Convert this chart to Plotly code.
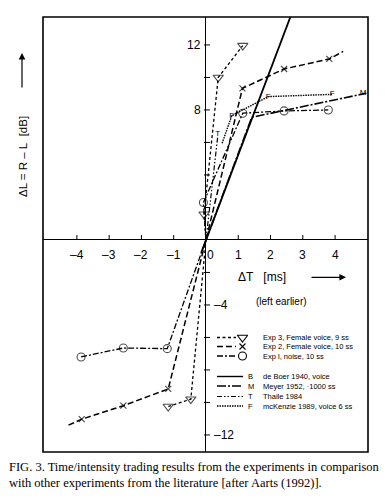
import plotly.graph_objects as go

# ---------------- data ----------------
exp3_x = [-1.17, -0.47, 0.0, -0.06, 0.38, 1.14]
exp3_y = [-10.25, -9.8, 0.0, 1.58, 10.0, 11.96]
exp3_m = [1, 1, 0, 1, 1, 1]

exp2_x = [-4.26, -3.85, -2.56, -1.17, 0.0, 1.13, 2.42, 3.82, 4.25]
exp2_y = [-11.4, -11.03, -10.2, -9.17, 0.0, 9.33, 10.52, 11.14, 11.6]
exp2_m = [0, 1, 1, 1, 0, 1, 1, 1, 0]

exp1_x = [-3.87, -2.56, -1.2, 0.0, -0.08, 1.14, 2.42, 3.79]
exp1_y = [-7.2, -6.65, -6.69, 0.0, 2.3, 7.8, 7.94, 8.0]
exp1_m = [1, 1, 1, 0, 1, 1, 1, 1]

boer_x = [-0.15, 2.62]
boer_y = [-0.8, 13.75]

meyer_x = [0.0, 1.42, 4.97]
meyer_y = [0.0, 7.55, 9.03]
meyer_t = ["", "", "M"]

thiele_x = [0.0, 0.36]
thiele_y = [0.0, 6.3]
thiele_t = ["", "T"]

mck_x = [0.5, 0.8, 1.93, 3.91]
mck_y = [5.95, 7.65, 8.82, 8.96]
mck_t = ["", "F", "F", "F"]

x_ticks = [-4, -3, -2, -1, 1, 2, 3, 4]
x_tick_labels = ["\u20134", "\u20133", "\u20132", "\u20131", "1", "2", "3", "4"]
y_ticks = [-12, -10, -8, -6, -4, -2, 2, 4, 6, 8, 10, 12]
y_label_vals = [12, 8, -4, -12]
y_label_text = ["12", "8", "\u20134", "\u201312"]

legend_exp = ["Exp 3, Female voice, 9 ss", "Exp 2, Female voice, 10 ss", "Exp l, noise, 10 ss"]
legend_lit_letters = ["B", "M", "T", "F"]
legend_lit = ["de Boer 1940, voice", "Meyer 1952, \u00b71000 ss", "Thaile 1984", "mcKenzie 1989, voice 6 ss"]

caption1 = "FIG. 3. Time/intensity trading results from the experiments in comparison"
caption2 = "with other experiments from the literature [after Aarts (1992)]."

# ---------------- styling ----------------
W, H = 390, 502
L, R, T, B = 43, 368, 17, 452
SANS = "Liberation Sans, Arial, sans-serif"
SERIF = "Liberation Serif, Times New Roman, serif"
K = "black"

def xp(px):
    return (px - L) / (R - L)

def yp(py):
    return (B - py) / (B - T)

st_exp3 = dict(dash="3px,2.5px", width=1.3)
st_exp2 = dict(dash="6px,3px", width=1.5)
st_exp1 = dict(dash="6px,2px,2px,2px", width=1.3)
st_boer = dict(dash="solid", width=1.8)
st_meyer = dict(dash="9px,2px,2px,2px", width=1.6)
st_thiele = dict(dash="5px,2px,1.5px,2px,1.5px,2px", width=1.2)
st_mck = dict(dash="1.5px,1px", width=1.4)

def msize(flags, s):
    return [s if f else 0 for f in flags]

fig = go.Figure()

fig.add_trace(go.Scatter(x=exp3_x, y=exp3_y, mode="lines+markers",
                         line=dict(color=K, **st_exp3),
                         marker=dict(symbol="triangle-down-open", size=msize(exp3_m, 9),
                                     color=K, line=dict(width=1.1, color=K))))
fig.add_trace(go.Scatter(x=exp2_x, y=exp2_y, mode="lines+markers",
                         line=dict(color=K, **st_exp2),
                         marker=dict(symbol="x-thin-open", size=msize(exp2_m, 6),
                                     color=K, line=dict(width=1.2, color=K))))
fig.add_trace(go.Scatter(x=exp1_x, y=exp1_y, mode="lines+markers",
                         line=dict(color=K, **st_exp1),
                         marker=dict(symbol="circle-open", size=msize(exp1_m, 8),
                                     color=K, line=dict(width=1.1, color=K))))
fig.add_trace(go.Scatter(x=boer_x, y=boer_y, mode="lines", line=dict(color=K, **st_boer)))
fig.add_trace(go.Scatter(x=meyer_x, y=meyer_y, mode="lines+text", text=meyer_t,
                         textposition="middle left", cliponaxis=False,
                         textfont=dict(family=SANS, size=8, color=K),
                         line=dict(color=K, **st_meyer)))
fig.add_trace(go.Scatter(x=thiele_x, y=thiele_y, mode="lines+text", text=thiele_t,
                         textposition="top center",
                         textfont=dict(family=SANS, size=8, color=K),
                         line=dict(color=K, **st_thiele)))
fig.add_trace(go.Scatter(x=mck_x, y=mck_y, mode="lines+text", text=mck_t,
                         textposition="middle center",
                         textfont=dict(family=SANS, size=8, color=K),
                         line=dict(color=K, **st_mck)))

# ---------------- legend (drawn in pixel-coordinate overlay axes) ----------------
exp_rows_y = [337.5, 346.5, 356]
exp_styles = [st_exp3, st_exp2, st_exp1]
exp_syms = ["triangle-down-open", "x-thin-open", "circle-open"]
exp_sizes = [9, 6, 8]
for yy, stl, sym, sz in zip(exp_rows_y, exp_styles, exp_syms, exp_sizes):
    fig.add_trace(go.Scatter(x=[217, 236], y=[yy, yy], mode="lines", xaxis="x2", yaxis="y2",
                             line=dict(color=K, **stl)))
    fig.add_trace(go.Scatter(x=[242.5], y=[yy], mode="markers", xaxis="x2", yaxis="y2",
                             marker=dict(symbol=sym, size=sz, color=K, line=dict(width=1.1, color=K))))

lit_rows_y = [376.5, 386, 396.5, 406]
lit_styles = [st_boer, st_meyer, st_thiele, st_mck]
for yy, stl in zip(lit_rows_y, lit_styles):
    s = dict(stl)
    s["width"] = min(s["width"], 1.4)
    fig.add_trace(go.Scatter(x=[217, 243], y=[yy, yy], mode="lines", xaxis="x2", yaxis="y2",
                             line=dict(color=K, **s)))

annotations = []
for yy, txt in zip(exp_rows_y, legend_exp):
    annotations.append(dict(x=261, y=yy, xref="x2", yref="y2", text=txt, showarrow=False,
                            xanchor="left", yanchor="middle",
                            font=dict(family=SANS, size=7.5, color=K)))
for yy, let, txt in zip(lit_rows_y, legend_lit_letters, legend_lit):
    annotations.append(dict(x=250.5, y=yy, xref="x2", yref="y2", text=let, showarrow=False,
                            xanchor="center", yanchor="middle",
                            font=dict(family=SANS, size=7.5, color=K)))
    annotations.append(dict(x=261, y=yy, xref="x2", yref="y2", text=txt, showarrow=False,
                            xanchor="left", yanchor="middle",
                            font=dict(family=SANS, size=7.5, color=K)))

# ---------------- axis tick labels and tick marks ----------------
shapes = []
for t, lab in zip(x_ticks, x_tick_labels):
    annotations.append(dict(x=t, y=0, xref="x", yref="y", text=lab, showarrow=False,
                            yshift=-15, xanchor="center", yanchor="middle",
                            font=dict(family=SANS, size=12, color=K)))
    shapes.append(dict(type="line", xref="x", yref="y", x0=t, x1=t,
                       ysizemode="pixel", yanchor=0, y0=0, y1=5,
                       line=dict(color=K, width=1)))
annotations.append(dict(x=0, y=0, xref="x", yref="y", text="0", showarrow=False,
                        yshift=-15, xshift=5, xanchor="center", yanchor="middle",
                        font=dict(family=SANS, size=12, color=K)))
for t in y_ticks:
    shapes.append(dict(type="line", xref="x", yref="y", y0=t, y1=t,
                       xsizemode="pixel", xanchor=0, x0=-2, x1=4,
                       line=dict(color=K, width=1)))
for v, lab in zip(y_label_vals, y_label_text):
    if v > 0:
        annotations.append(dict(x=0, y=v, xref="x", yref="y", text=lab, showarrow=False,
                                xshift=-3, xanchor="right", yanchor="middle",
                                font=dict(family=SANS, size=12, color=K)))
    else:
        annotations.append(dict(x=0, y=v, xref="x", yref="y", text=lab, showarrow=False,
                                xshift=6, xanchor="left", yanchor="middle",
                                font=dict(family=SANS, size=12, color=K)))

# axis titles
annotations.append(dict(x=xp(262), y=yp(277), xref="paper", yref="paper",
                        text="\u0394T\u00a0\u00a0\u00a0[ms]", showarrow=False,
                        xanchor="center", yanchor="middle",
                        font=dict(family=SANS, size=12, color=K)))
annotations.append(dict(x=xp(346), y=yp(277.3), xref="paper", yref="paper", text="",
                        showarrow=True, ax=-36, ay=0, arrowhead=2, arrowsize=1.1,
                        arrowwidth=1.2, arrowcolor=K))
annotations.append(dict(x=xp(281), y=yp(301.5), xref="paper", yref="paper",
                        text="(left earlier)", showarrow=False,
                        xanchor="center", yanchor="middle",
                        font=dict(family=SANS, size=10, color=K)))
annotations.append(dict(x=xp(23), y=yp(157), xref="paper", yref="paper",
                        text="\u0394L = R \u2013 L\u00a0\u00a0[dB]", showarrow=False, textangle=-90,
                        xanchor="center", yanchor="middle",
                        font=dict(family=SANS, size=11.5, color=K)))
annotations.append(dict(x=xp(22), y=yp(53), xref="paper", yref="paper", text="",
                        showarrow=True, ax=0, ay=36, arrowhead=2, arrowsize=1.1,
                        arrowwidth=1.2, arrowcolor=K))

# caption
annotations.append(dict(x=xp(7), y=yp(467), xref="paper", yref="paper", text=caption1,
                        showarrow=False, xanchor="left", yanchor="middle",
                        font=dict(family=SERIF, size=12.5, color=K)))
annotations.append(dict(x=xp(7), y=yp(483), xref="paper", yref="paper", text=caption2,
                        showarrow=False, xanchor="left", yanchor="middle",
                        font=dict(family=SERIF, size=12.5, color=K)))

# plot frame
shapes.append(dict(type="rect", xref="paper", yref="paper", x0=0, x1=1, y0=0, y1=1,
                   line=dict(color=K, width=1.6)))

fig.update_layout(
    width=W, height=H,
    margin=dict(l=L, r=W - R, t=T, b=H - B),
    paper_bgcolor="white", plot_bgcolor="white",
    showlegend=False,
    hovermode=False,
    xaxis=dict(range=[-5.05, 5.02], showgrid=False, showticklabels=False, ticks="",
               zeroline=True, zerolinecolor=K, zerolinewidth=1.4, showline=False),
    yaxis=dict(range=[-13.05, 13.72], showgrid=False, showticklabels=False, ticks="",
               zeroline=True, zerolinecolor=K, zerolinewidth=1.4, showline=False),
    xaxis2=dict(range=[L, R], overlaying="x", visible=False),
    yaxis2=dict(range=[B, T], overlaying="y", visible=False),
    annotations=annotations,
    shapes=shapes,
)

fig.write_html("out.html", config={"displayModeBar": False},
               post_script="document.body.style.margin='0';")
